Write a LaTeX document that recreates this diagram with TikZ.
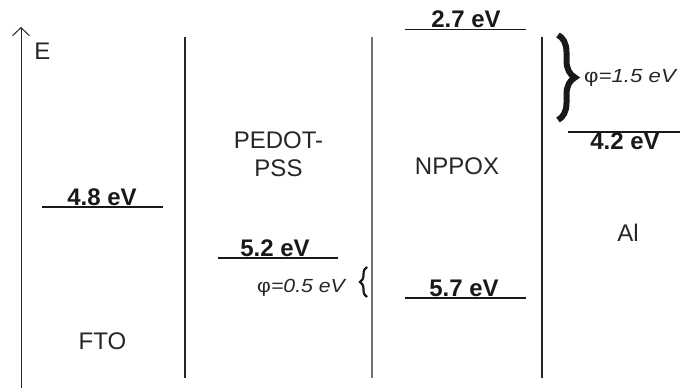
\documentclass[tikz,border=0pt]{standalone}
\usepackage{graphicx}
\usepackage{fontspec}
\setmainfont{Liberation Sans}
\usetikzlibrary{arrows.meta,decorations.pathreplacing}
\begin{document}
\begin{tikzpicture}[x=1pt,y=1pt,
  sep/.style={line width=1.2pt, draw=black!85},
  lvl/.style={line width=1.8pt, draw=black!90},
  lab/.style={inner sep=0pt, anchor=base, font=\fontsize{24}{28}\selectfont, text=black!85},
  val/.style={inner sep=0pt, anchor=base, font=\fontsize{24}{28}\selectfont\bfseries, text=black!90},
  philab/.style={inner sep=0pt, anchor=base west, font=\fontsize{19}{21}\selectfont, text=black!85},
  bracedec/.style={decorate, decoration={brace, amplitude=#1}, draw=black!90}]
\useasboundingbox (0,0) rectangle (680,388);

% energy axis
\coordinate (a0) at (21,0);
\coordinate (a1) at (21,361);
\draw[line width=1pt, draw=black!85, -{Straight Barb[length=8pt,width=17pt]}] (a0) -- (a1);
\node[lab] (E) at (42.5,328) {E};

% separators
\coordinate (s1t) at (185,351); \coordinate (s1b) at (185,10);
\coordinate (s2t) at (372,351); \coordinate (s2b) at (372,10);
\coordinate (s3t) at (542,351); \coordinate (s3b) at (542,10);
\draw[sep] (s1t) -- (s1b);
\draw[sep, draw=black!55] (s2t) -- (s2b);
\draw[sep] (s3t) -- (s3b);

% levels
\coordinate (l48a) at (42,181);   \coordinate (l48b) at (163,181);
\coordinate (l52a) at (218,130);  \coordinate (l52b) at (338,130);
\coordinate (l27a) at (405,358.5);\coordinate (l27b) at (526,358.5);
\coordinate (l57a) at (405,90);   \coordinate (l57b) at (526,90);
\coordinate (l42a) at (568,256.3);\coordinate (l42b) at (680,256.3);
\draw[lvl] (l48a) -- (l48b);
\draw[lvl] (l52a) -- (l52b);
\draw[lvl] (l27a) -- (l27b);
\draw[lvl] (l57a) -- (l57b);
\draw[lvl] (l42a) -- (l42b);

\node[val] (v48) at (102,182) {4.8 eV};
\node[val] (v52) at (275,131) {5.2 eV};
\node[val] (v27) at (466,360) {2.7 eV};
\node[val] (v57) at (464,91) {5.7 eV};
\node[val] (v42) at (625,238) {4.2 eV};

% layer names
\node[lab] (fto) at (102.5,38) {FTO};
\node[lab] (pedot) at (278.5,239) {PEDOT-};
\node[lab] (pss) at (278.5,211) {PSS};
\node[lab] (nppox) at (457,213) {NPPOX};
\node[lab] (al) at (628,146) {Al};

% barriers
\coordinate (b1t) at (558,353); \coordinate (b1b) at (558,268);
\draw[bracedec=17, line width=6pt] (b1t) -- (b1b);
\node[philab] (phi1) at (584,305) {\scalebox{1.17}[1]{φ\textit{=1.5 eV}}};

\coordinate (b2b) at (367,91); \coordinate (b2t) at (367,121);
\draw[bracedec=7, line width=2.2pt] (b2b) -- (b2t);
\node[philab] (phi2) at (257,95) {\scalebox{1.12}[1]{φ\textit{=0.5 eV}}};
\end{tikzpicture}
\end{document}
